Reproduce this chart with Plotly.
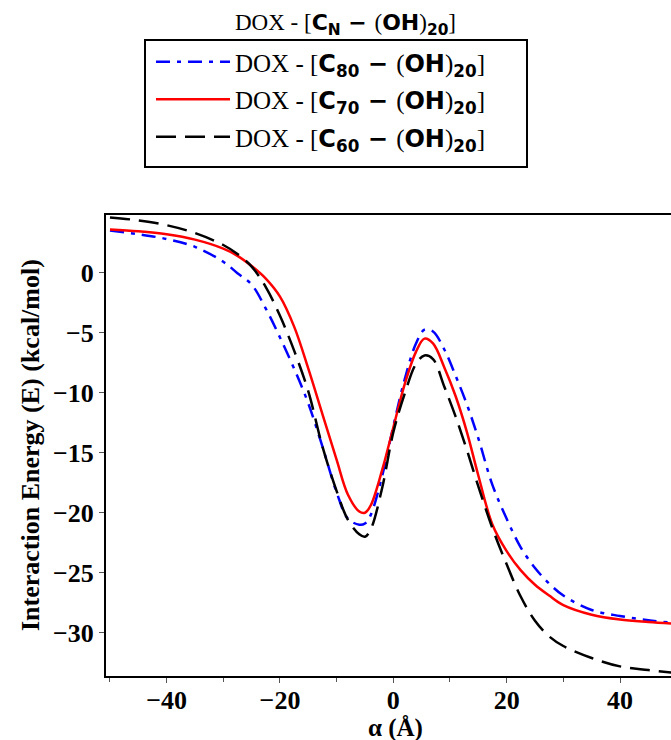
import plotly.graph_objects as go

# x positions (Å) at which the curves were read
alpha = [-50, -45, -40, -35, -30, -27.5, -25, -22.5, -20, -17.5, -15, -12.5, -10, -8,
         -6, -5, -4, -2, 0, 2, 4, 5.5, 7, 9, 11, 13, 15, 17.5, 20, 22.5, 25, 27.5,
         30, 35, 40, 45, 50]

e_c80 = [3.5, 3.2, 2.8, 2.15, 0.9, -0.05, -1.0, -3.0, -5.4, -8.0, -10.9, -14.5, -18.3, -20.5,
         -21.0, -20.9, -20.2, -17.0, -12.8, -8.9, -5.9, -4.75, -4.9, -6.4, -8.6, -11.0, -13.8, -17.7,
         -20.5, -22.9, -24.6, -25.9, -26.9, -28.1, -28.6, -28.95, -29.2]

e_c70 = [3.6, 3.45, 3.2, 2.75, 2.0, 1.4, 0.55, -0.5, -2.0, -4.5, -8.0, -11.8, -15.6, -18.5,
         -19.9, -20.0, -19.4, -16.5, -12.9, -9.3, -6.6, -5.5, -5.9, -7.9, -10.3, -13.3, -16.9, -21.0,
         -23.2, -24.8, -26.0, -26.9, -27.7, -28.5, -28.9, -29.1, -29.25]

e_c60 = [4.6, 4.35, 3.95, 3.3, 2.3, 1.55, 0.5, -1.2, -3.6, -6.5, -9.9, -14.5, -18.2, -20.6,
         -21.8, -22.0, -21.4, -18.0, -13.3, -10.1, -7.6, -6.9, -7.2, -9.5, -12.0, -14.8, -17.8, -21.3,
         -24.3, -27.0, -29.0, -30.3, -31.1, -32.1, -32.8, -33.1, -33.35]

x_ticks = [-40, -20, 0, 20, 40]
x_ticktext = ["−40", "−20", "0", "20", "40"]
y_ticks = [-30, -25, -20, -15, -10, -5, 0]
y_ticktext = ["−30", "−25", "−20", "−15", "−10", "−5", "0"]

W, H = 671, 740
PX0, PX1, PY0, PY1 = 106, 671, 215, 676   # plot area on the page


def px(x):
    return (x - PX0) / (PX1 - PX0)


def py(y):
    return (PY1 - y) / (PY1 - PY0)


def sans(size):
    return "font-family:'DejaVu Sans';font-weight:bold;font-size:%dpx" % size


def label(n, sans_size):
    s = sans(sans_size)
    return ("DOX - [<span style=\"%s\">C<sub>%s</sub> − </span>(<span style=\"%s\">OH</span>)"
            "<span style=\"%s\"><sub>20</sub></span>]") % (s, n, s, s)


names = [label("80", 24), label("70", 24), label("60", 24)]
series = [e_c80, e_c70, e_c60]
colors = ["#0000ff", "#ff0000", "#000000"]
dashes = ["14px,7px,4px,7px", "solid", "20px,9px"]

fig = go.Figure()
for i, (nm, ys, c, d) in enumerate(zip(names, series, colors, dashes)):
    fig.add_trace(go.Scatter(x=alpha, y=ys, mode="lines", name=nm, legendgroup="g%d" % i,
                             line=dict(color=c, width=2.5, dash=d, shape="spline", smoothing=1.0)))

tickfont = dict(family="Liberation Serif", size=26, color="black", weight="bold")

fig.update_layout(
    width=W, height=H,
    margin=dict(l=PX0, r=W - PX1, t=PY0, b=H - PY1, autoexpand=False),
    plot_bgcolor="white", paper_bgcolor="white",
    showlegend=True,
    legend=dict(x=px(151), y=py(39), xanchor="left", yanchor="top",
                borderwidth=0, bgcolor="rgba(0,0,0,0)",
                font=dict(family="Liberation Serif", size=25, color="black"),
                itemwidth=74, tracegroupgap=2),
    xaxis=dict(range=[-50.7, 49.0], tickvals=x_ticks, ticktext=x_ticktext, automargin=False,
               showline=True, linecolor="black", linewidth=2, mirror=True,
               ticks="outside", ticklen=5, tickcolor="#555", tickwidth=1, ticklabelstandoff=-5,
               minor=dict(dtick=10, tick0=0, ticks="outside", ticklen=4, tickcolor="#555"),
               showgrid=False, zeroline=False, tickfont=tickfont),
    yaxis=dict(range=[-33.6, 4.8], tickvals=y_ticks, ticktext=y_ticktext, automargin=False,
               showline=True, linecolor="black", linewidth=2, mirror=False,
               ticks="outside", ticklen=5, tickcolor="#555", tickwidth=1,
               showgrid=False, zeroline=False, tickfont=tickfont),
    shapes=[dict(type="rect", xref="paper", yref="paper",
                 x0=px(145), x1=px(527), y0=py(167), y1=py(40),
                 line=dict(color="black", width=2), fillcolor="rgba(0,0,0,0)")],
    annotations=[
        dict(xref="paper", yref="paper", x=px(345), y=py(24),
             xanchor="center", yanchor="middle", showarrow=False,
             text=("DOX - [<span style=\"%s\">C<sub>N</sub> − </span>(<span style=\"%s\">OH</span>)"
                   "<span style=\"%s\"><sub>20</sub></span>]") % (sans(22), sans(22), sans(22)),
             font=dict(family="Liberation Serif", size=23, color="black")),
        dict(xref="paper", yref="paper", x=px(30), y=py(445), textangle=-90,
             xanchor="center", yanchor="middle", showarrow=False,
             text="Interaction Energy (E) (kcal/mol)",
             font=dict(family="Liberation Serif", size=26, color="black", weight="bold")),
        dict(xref="paper", yref="paper", x=px(395), y=py(728),
             xanchor="center", yanchor="middle", showarrow=False,
             text="α (Å)",
             font=dict(family="Liberation Serif", size=25, color="black", weight="bold")),
    ],
)

fig.write_html("out.html", config={"displayModeBar": False},
               post_script="document.body.style.margin='0';document.body.style.overflow='hidden';")
